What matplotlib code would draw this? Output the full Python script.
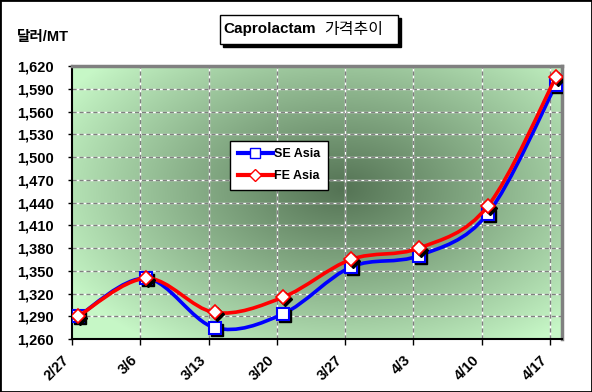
import numpy as np
import matplotlib
matplotlib.use("Agg")
import matplotlib.pyplot as plt
from matplotlib.path import Path
from matplotlib.patches import PathPatch, Rectangle
from matplotlib.lines import Line2D
from matplotlib.transforms import offset_copy
from matplotlib.ticker import FuncFormatter

# Liberation for latin, Noto CJK for the korean glyphs
plt.rcParams['font.family'] = ['Liberation Sans', 'Noto Sans CJK KR']

# data
dates = ["2/27", "3/6", "3/13", "3/20", "3/27", "4/3", "4/10", "4/17"]
se_asia = [1290, 1340, 1275, 1293, 1355, 1370, 1425, 1595]
fe_asia = [1290, 1340, 1295, 1315, 1365, 1380, 1435, 1605]
y_ticks = [1260, 1290, 1320, 1350, 1380, 1410, 1440, 1470, 1500, 1530, 1560, 1590, 1620]


def smooth_path(xs, ys):
    # excel-like smoothed line: bezier segments through the points
    pts = np.column_stack([xs, ys]).astype(float)
    n = len(pts)
    verts = [pts[0]]
    codes = [Path.MOVETO]
    for i in range(n - 1):
        p0 = pts[max(i - 1, 0)]
        p1 = pts[i]
        p2 = pts[i + 1]
        p3 = pts[min(i + 2, n - 1)]
        verts += [p1 + (p2 - p0) / 6, p2 - (p3 - p1) / 6, p2]
        codes += [Path.CURVE4] * 3
    return Path(verts, codes)


fig = plt.figure(figsize=(5.92, 3.92), dpi=100)
fig.patches.append(Rectangle((0, 0), 1, 1, transform=fig.transFigure, fill=False,
                             edgecolor='black', lw=2))

ax = fig.add_axes([0.1216, 0.1352, 0.8277, 0.6964])

# green background, dark in the middle
gx, gy = np.meshgrid(np.linspace(0, 1, 300), np.linspace(0, 1, 200))
r = np.sqrt(((gx - 0.55) / 0.65) ** 2 + ((gy - 0.55) / 0.7) ** 2)
t = np.clip(1 - r, 0, 1) ** 0.95
light = np.array([0.78, 0.97, 0.78])
dark = np.array([0.33, 0.45, 0.33])
img = light + (dark - light) * t[..., None]
ax.imshow(img, extent=[0, 1, 0, 1], transform=ax.transAxes, origin='lower',
          aspect='auto', zorder=0, interpolation='bilinear')

x = np.arange(len(dates))
shift = 0.087
ax.set_xlim(-0.09, len(dates) - 1 + 0.09)
ax.set_ylim(y_ticks[0], y_ticks[-1])

# gridlines: white under gray dashes
for yv in y_ticks[1:-1]:
    ax.axhline(yv, color='white', lw=1, zorder=1)
    ax.axhline(yv, color='#808080', lw=1, ls=(0, (3, 2)), zorder=1)
for xv in x[1:] - shift:
    ax.axvline(xv, color='white', lw=1, zorder=1)
    ax.axvline(xv, color='#808080', lw=1, ls=(0, (3, 2)), zorder=1)

shadow = offset_copy(ax.transData, fig=fig, x=2, y=-2, units='dots')

# SE Asia
ax.add_patch(PathPatch(smooth_path(x, se_asia), fill=False, edgecolor='blue', lw=2.6, zorder=3))
ax.plot(x, se_asia, ls='none', marker='s', ms=9, color='black', transform=shadow, zorder=4)
ax.plot(x, se_asia, ls='none', marker='s', ms=9, mfc='white', mec='blue', mew=1.5, zorder=4)

# FE Asia
ax.add_patch(PathPatch(smooth_path(x, fe_asia), fill=False, edgecolor='red', lw=2.6, zorder=5))
ax.plot(x, fe_asia, ls='none', marker='D', ms=7, color='black', transform=shadow, zorder=6)
ax.plot(x, fe_asia, ls='none', marker='D', ms=7, mfc='white', mec='red', mew=1.2, zorder=6)

ax.set_xticks(x - shift)
ax.set_xticklabels(dates, rotation=45, ha='right', fontsize=10.5, fontweight='bold')
ax.set_yticks(y_ticks)
ax.yaxis.set_major_formatter(FuncFormatter(lambda v, p: f"{int(v):,}"))
for lab in ax.get_yticklabels():
    lab.set_fontweight('bold')
ax.tick_params(axis='y', labelsize=10.5, length=3, width=1, pad=10)
ax.tick_params(axis='x', length=4, width=1, pad=6)

for s in ['left', 'bottom']:
    ax.spines[s].set_color('black')
    ax.spines[s].set_linewidth(1.5)
for s in ['top', 'right']:
    ax.spines[s].set_color('#808080')
    ax.spines[s].set_linewidth(2.5)

handles = [
    Line2D([], [], color='blue', lw=3, marker='s', ms=7, mfc='white', mec='blue'),
    Line2D([], [], color='red', lw=3, marker='D', ms=6, mfc='white', mec='red'),
]
leg = ax.legend(handles, ["SE Asia", "FE Asia"], loc='upper left',
                bbox_to_anchor=(0.31, 0.75), prop={'weight': 'bold', 'size': 9},
                fancybox=False, framealpha=1, edgecolor='black', handlelength=2.8,
                handletextpad=0.1, borderpad=0.6, labelspacing=0.8)
leg.get_frame().set_linewidth(1)
leg.set_zorder(10)

# title box with shadow
fig.patches.append(Rectangle((0.3767, 0.8802), 0.3007, 0.074, transform=fig.transFigure,
                             facecolor='black', edgecolor='black'))
fig.patches.append(Rectangle((0.3716, 0.8878), 0.3007, 0.074, transform=fig.transFigure,
                             facecolor='white', edgecolor='black', lw=1))
fig.text(0.3767, 0.925, "Caprolactam", ha='left', va='center',
         fontsize=11, fontweight='bold')
fig.text(0.547, 0.925, "가격추이", ha='left', va='center', fontsize=11.5)

fig.text(0.029, 0.906, "달러/MT", ha='left', va='center', fontsize=10.5, fontweight='bold')

fig.savefig("out.png", dpi=100)
